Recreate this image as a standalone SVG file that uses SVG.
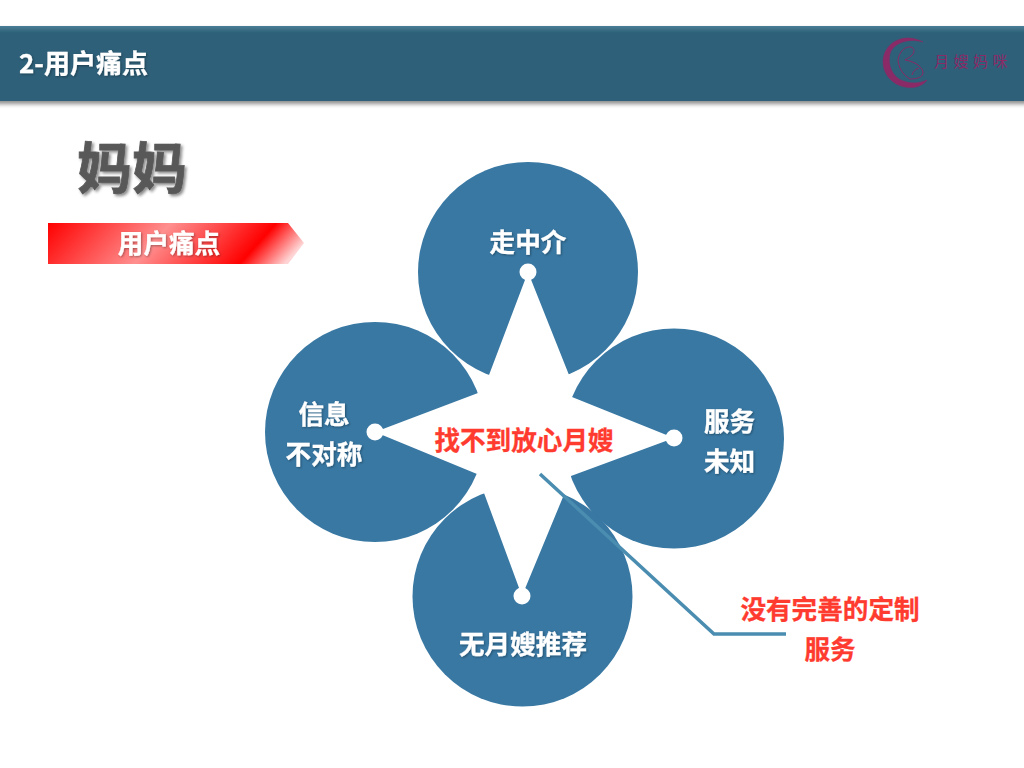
<svg xmlns="http://www.w3.org/2000/svg" width="1024" height="768" viewBox="0 0 1024 768">
<style>
text{font-family:"Noto Sans CJK SC","Liberation Sans",sans-serif;font-weight:700;text-anchor:middle}
.c{fill:#3878a3}
.w{fill:#fff;font-size:25.6px;stroke:#fff;stroke-width:.3;filter:url(#ts)}
.r{fill:#ff3b2f;font-size:25.6px;stroke:#ff3b2f;stroke-width:.3}
.d{fill:#fff}
</style>
<defs>
<linearGradient id="bar" x1="0" y1="0" x2="0" y2="1"><stop offset="0" stop-color="#4a7f96"/><stop offset=".09" stop-color="#2e6179"/><stop offset="1" stop-color="#2e6179"/></linearGradient>
<linearGradient id="tag" gradientUnits="userSpaceOnUse" x1="48" y1="223" x2="199" y2="359"><stop offset="0" stop-color="#ff0000"/><stop offset=".45" stop-color="#ff8f8f"/><stop offset=".835" stop-color="#ff0000"/><stop offset="1" stop-color="#ffd4d4"/></linearGradient>
<filter id="bs" x="-5%" y="-20%" width="110%" height="150%"><feDropShadow dx="1" dy="3" stdDeviation="2" flood-color="#000" flood-opacity=".45"/></filter>
<filter id="ts" x="-10%" y="-20%" width="125%" height="145%"><feDropShadow dx="1" dy="1" stdDeviation=".8" flood-color="#000" flood-opacity=".35"/></filter>
<filter id="ms" x="-10%" y="-10%" width="125%" height="125%"><feDropShadow dx="2" dy="2" stdDeviation="1.5" flood-color="#000" flood-opacity=".45"/></filter>
</defs>
<g id="header">
<rect x="-6" y="26" width="1036" height="75" fill="url(#bar)" filter="url(#bs)"/>
<text x="83.5" y="73" fill="#fff" font-size="26" stroke="#fff" stroke-width=".3" style="filter:url(#ts)">2-用户痛点</text>
</g>
<g id="logo" fill="none" stroke="#8a2a66">
<path d="M923 42C906 33 889 40 884 55C880 69 889 84 905 87C914 89 923 86 927 80C919 84 908 84 899 79C890 73 887 60 891 51C896 42 910 38 923 42Z" fill="#8a2a66" stroke-width=".5"/>
<path d="M898 60C899 52 905 46 911 47C915 48 915 53 911 56C909 58 906 59 905 60C913 61 922 66 923 72C923 77 918 79 910 79M898 60C899 68 902 74 910 79M912 75C913 71 916 69 919 68" stroke-width="1"/>
<text x="934" y="67" font-size="15" fill="#8a2a66" stroke="none" style="font-weight:400;letter-spacing:4.5px;text-anchor:start">月嫂妈咪</text>
</g>
<g id="title"><text x="132" y="188" font-size="55" fill="#595959" stroke="#595959" stroke-width=".8" style="filter:url(#ms)">妈妈</text></g>
<g id="tag">
<path d="M48 223H288L304 243L288 264H48Z" fill="url(#tag)"/>
<text x="169" y="253" class="w">用户痛点</text>
</g>
<g id="petal-top"><circle class="c" cx="528" cy="272" r="110"/></g>
<g id="petal-left"><circle class="c" cx="375" cy="432" r="110"/></g>
<g id="petal-right"><circle class="c" cx="674" cy="438.500" r="110"/></g>
<g id="petal-bottom"><circle class="c" cx="522.500" cy="596.500" r="110"/></g>
<g id="star">
<path class="d" d="M528 272L569 375L572 397L674 438L571 476L563 497L522 596L484 493L477 474L375 432L478 393L489 375Z"/>
<circle class="d" cx="528" cy="272" r="8.500"/><circle class="d" cx="375" cy="432" r="8.500"/><circle class="d" cx="674" cy="438" r="8.500"/><circle class="d" cx="522" cy="596" r="8.500"/>
</g>
<g id="connectors"><path d="M540 474L714 634H786" fill="none" stroke="#4a8db0" stroke-width="3.500"/></g>
<g id="labels">
<text x="528" y="252" class="w">走中介</text>
<text x="324" y="424" class="w">信息</text>
<text x="324" y="464" class="w">不对称</text>
<text x="729.500" y="431" class="w">服务</text>
<text x="729.500" y="471" class="w">未知</text>
<text x="523" y="654" class="w">无月嫂推荐</text>
<text x="524" y="450" class="r">找不到放心月嫂</text>
<text x="830" y="619" class="r">没有完善的定制</text>
<text x="830" y="659" class="r">服务</text>
</g>
</svg>
